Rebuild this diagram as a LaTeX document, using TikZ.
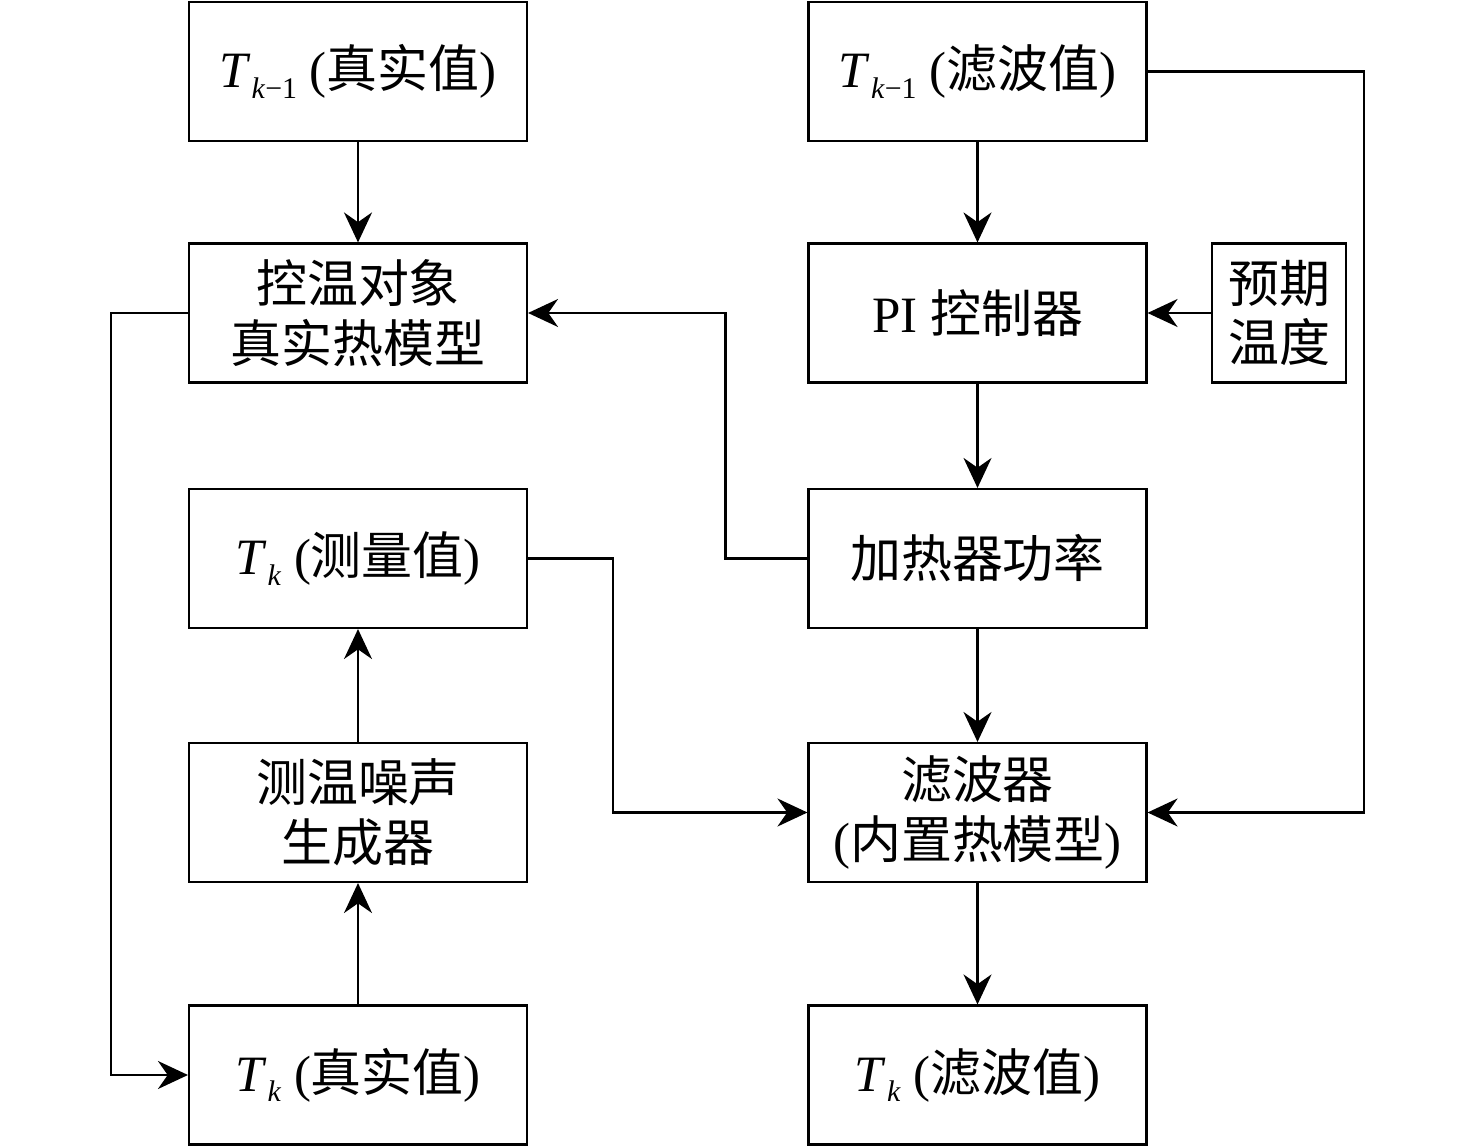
\documentclass[tikz,border=0pt]{standalone}
\usepackage{fontspec}
\setmainfont{Liberation Serif}
\newfontfamily\cjk{Noto Sans CJK SC}
\usetikzlibrary{arrows.meta}
\newcommand{\Tv}[1]{\textit{T}\kern0.3pt\raisebox{-3pt}{\fontsize{8.5pt}{8.5pt}\selectfont #1}}
\tikzset{blk/.style={draw,line width=0.6pt,minimum width=3.38cm,minimum height=1.39cm,align=center,inner sep=0pt,font=\fontsize{14.5pt}{17pt}\selectfont},
  flow/.style={line width=0.6pt,-{Stealth[length=3mm,width=2.8mm]}}}

\begin{document}
\begin{tikzpicture}
  \useasboundingbox (0,0) rectangle (14.76,-11.47);
  % left column
  \node (tprev) at (3.58,-0.715) [blk] {\Tv{\textit{k}−1} ({\cjk 真实值})};
  \node (plant) at (3.58,-3.13) [blk] {{\cjk 控温对象}\\{\cjk 真实热模型}};
  \node (tmeas) at (3.58,-5.585) [blk] {\Tv{\textit{k}} ({\cjk 测量值})};
  \node (noise) at (3.58,-8.125) [blk] {{\cjk 测温噪声}\\{\cjk 生成器}};
  \node (ttrue) at (3.58,-10.75) [blk] {\Tv{\textit{k}} ({\cjk 真实值})};
  % right column
  \node (fprev) at (9.775,-0.715) [blk] {\Tv{\textit{k}−1} ({\cjk 滤波值})};
  \node (pictrl) at (9.775,-3.13) [blk] {PI {\cjk 控制器}};
  \node (heater) at (9.775,-5.585) [blk] {{\cjk 加热器功率}};
  \node (filter) at (9.775,-8.125) [blk] {{\cjk 滤波器}\\({\cjk 内置热模型})};
  \node (tfilt) at (9.775,-10.75) [blk] {\Tv{\textit{k}} ({\cjk 滤波值})};
  \node (setpt) at (12.79,-3.13) [blk,minimum width=1.34cm] {{\cjk 预期}\\{\cjk 温度}};

  \draw[flow] (tprev) -- (plant);
  \draw[flow] (plant.west) -- ++(-0.77,0) |- (ttrue.west);
  \draw[flow] (ttrue) -- (noise);
  \draw[flow] (noise) -- (tmeas);
  \draw[flow] (tmeas.east) -- ++(0.85,0) |- (filter.west);
  \draw[flow] (fprev) -- (pictrl);
  \draw[flow] (setpt) -- (pictrl);
  \draw[flow] (pictrl) -- (heater);
  \draw[flow] (heater.west) -- ++(-0.82,0) |- (plant.east);
  \draw[flow] (heater) -- (filter);
  \draw[flow] (fprev.east) -- ++(2.16,0) |- (filter.east);
  \draw[flow] (filter) -- (tfilt);
\end{tikzpicture}
\end{document}
